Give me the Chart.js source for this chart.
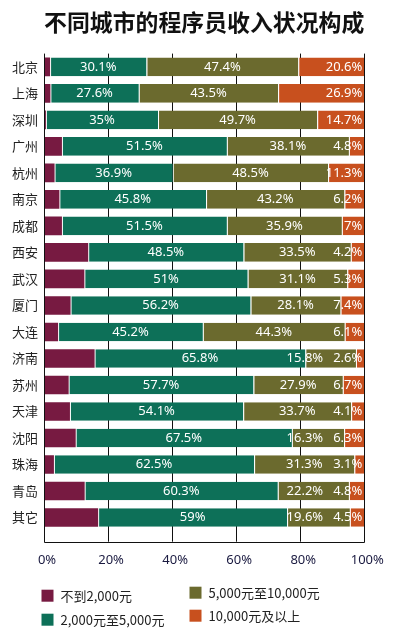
<!DOCTYPE html>
<html>
<head>
<meta charset="utf-8">
<script src="https://cdn.jsdelivr.net/npm/chart.js@4.4.1/dist/chart.umd.min.js"></script>
<style>
  html, body { margin: 0; padding: 0; background: #fff; }
  #wrap { width: 395px; height: 632px; }
</style>
</head>
<body>
<div id="wrap"><canvas id="incomeChart"></canvas></div>
<script>
const cities = ["北京", "上海", "深圳", "广州", "杭州", "南京", "成都", "西安", "武汉",
                "厦门", "大连", "济南", "苏州", "天津", "沈阳", "珠海", "青岛", "其它"];
const under2k    = [1.9, 2.0, 0.6, 5.6, 3.3, 4.8, 5.6, 13.8, 12.6, 8.3, 4.4, 15.8, 7.7, 8.1, 9.9, 3.1, 12.7, 16.9];
const from2to5k  = [30.1, 27.6, 35, 51.5, 36.9, 45.8, 51.5, 48.5, 51, 56.2, 45.2, 65.8, 57.7, 54.1, 67.5, 62.5, 60.3, 59];
const from5to10k = [47.4, 43.5, 49.7, 38.1, 48.5, 43.2, 35.9, 33.5, 31.1, 28.1, 44.3, 15.8, 27.9, 33.7, 16.3, 31.3, 22.2, 19.6];
const over10k    = [20.6, 26.9, 14.7, 4.8, 11.3, 6.2, 7, 4.2, 5.3, 7.4, 6.1, 2.6, 6.7, 4.1, 6.3, 3.1, 4.8, 4.5];
const seriesNames = ["不到2,000元", "2,000元至5,000元", "5,000元至10,000元", "10,000元及以上"];
const seriesColors = ["#771a41", "#0d7058", "#6b6a2e", "#c8501e"];

const cjk = "'Noto Sans CJK SC', 'Noto Sans', sans-serif";

// white value labels inside the bars
const barLabels = {
    id: "barLabels",
    afterDatasetsDraw(chart) {
        const ctx = chart.ctx;
        const right = chart.chartArea.right;
        ctx.save();
        ctx.font = "13px 'Noto Sans', sans-serif";
        ctx.fillStyle = "#fff";
        ctx.textBaseline = "middle";
        chart.data.labels.forEach((_, i) => {
            const ds = chart.data.datasets;
            const g = chart.getDatasetMeta(1).data[i];
            const o = chart.getDatasetMeta(2).data[i];
            const r = chart.getDatasetMeta(3).data[i];

            // top band: right aligned at the end of the bar
            const t3 = ds[3].data[i] + "%";
            const w3 = ctx.measureText(t3).width;
            ctx.textAlign = "right";
            ctx.fillText(t3, right - 2, r.y);
            const leftOf3 = right - 2 - w3;

            // middle band: centred, but kept clear of the last label
            const t2 = ds[2].data[i] + "%";
            const w2 = ctx.measureText(t2).width;
            let c2 = (o.x + o.base) / 2;
            c2 = Math.min(c2, leftOf3 - 10 - w2 / 2);
            ctx.textAlign = "center";
            ctx.fillText(t2, c2, o.y);

            const t1 = ds[1].data[i] + "%";
            ctx.fillText(t1, (g.x + g.base) / 2, g.y);
        });
        ctx.restore();
    }
};

// left / right / bottom frame, drawn over the bars
const frame = {
    id: "frame",
    afterDatasetsDraw(chart) {
        const { ctx, chartArea } = chart;
        const l = Math.round(chartArea.left) + 0.5;
        const r = Math.round(chartArea.right) + 0.5;
        const t = Math.round(chartArea.top);
        const b = Math.round(chartArea.bottom + 11) + 0.5;
        ctx.save();
        ctx.strokeStyle = "#111";
        ctx.lineWidth = 1;
        ctx.beginPath();
        ctx.moveTo(l, t + 2);
        ctx.lineTo(l, b);
        ctx.lineTo(r, b);
        ctx.lineTo(r, t);
        ctx.stroke();
        ctx.restore();
    }
};

// two-column legend under the axis
const legendGrid = {
    id: "legendGrid",
    afterDraw(chart) {
        const { ctx, chartArea } = chart;
        const spots = [
            [chartArea.left - 2.5, chartArea.bottom + 65],
            [chartArea.left - 2.5, chartArea.bottom + 89],
            [chartArea.left + 145.5, chartArea.bottom + 62],
            [chartArea.left + 145.5, chartArea.bottom + 85]
        ];
        ctx.save();
        ctx.font = "13px " + cjk;
        ctx.textBaseline = "middle";
        ctx.textAlign = "left";
        chart.data.datasets.forEach((d, i) => {
            const [x, y] = spots[i];
            ctx.fillStyle = d.backgroundColor;
            ctx.fillRect(x, y - 6, 12, 12);
            ctx.fillStyle = "#222";
            ctx.fillText(d.label, x + 19, y);
        });
        ctx.restore();
    }
};

const ctx = document.getElementById("incomeChart").getContext("2d");
new Chart(ctx, {
    type: "bar",
    data: {
        labels: cities,
        datasets: [under2k, from2to5k, from5to10k, over10k].map((vals, i) => ({
            label: seriesNames[i],
            data: vals,
            backgroundColor: seriesColors[i],
            borderColor: "#fff",
            borderWidth: i === 0 ? 0 : { left: 1, right: 0, top: 0, bottom: 0 },
            borderSkipped: false,
            barPercentage: 1,
            categoryPercentage: 0.7
        }))
    },
    options: {
        indexAxis: "y",
        responsive: true,
        maintainAspectRatio: false,
        animation: false,
        layout: {
            padding: { left: 6, right: 30.7, top: 0, bottom: 52.7 }
        },
        scales: {
            x: {
                stacked: true,
                min: 0,
                max: 100,
                border: { display: false },
                grid: {
                    color: "#111",
                    lineWidth: 1,
                    tickLength: 11,
                    drawTicks: true
                },
                ticks: {
                    stepSize: 20,
                    padding: 11,
                    labelOffset: 3,
                    color: "#1a1a40",
                    font: { family: "'Noto Sans', sans-serif", size: 13 },
                    callback: v => v + "%"
                }
            },
            y: {
                stacked: true,
                border: { display: false },
                grid: { display: false, drawTicks: false },
                ticks: {
                    padding: 6,
                    color: "#222",
                    font: { family: cjk, size: 13 }
                }
            }
        },
        plugins: {
            legend: { display: false },
            tooltip: { enabled: false },
            title: {
                display: true,
                fullSize: false,
                text: "不同城市的程序员收入状况构成",
                color: "#111",
                font: { family: cjk, size: 23, weight: "bold", lineHeight: 1.2 },
                padding: { top: 8, bottom: 18 }
            }
        }
    },
    plugins: [barLabels, frame, legendGrid]
});
</script>
</body>
</html>
